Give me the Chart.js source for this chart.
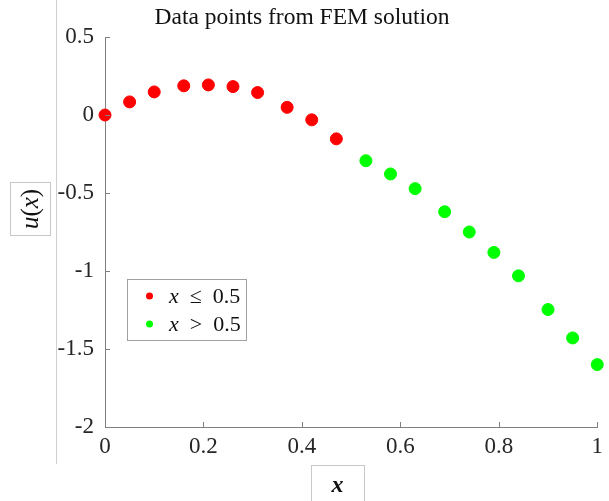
<!DOCTYPE html>
<html>
<head>
<meta charset="utf-8">
<script src="https://cdn.jsdelivr.net/npm/chart.js@4"></script>
<style>
  html,body{margin:0;padding:0;background:#fff;}
  #wrap{width:609px;height:501px;}
</style>
</head>
<body>
<div id="wrap"><canvas id="c" width="609" height="501"></canvas></div>
<script>
// FEM solution points, split at x = 0.5
const xRed = [0, 0.05, 0.1, 0.16, 0.21, 0.26, 0.31, 0.37, 0.42, 0.47];
const yRed = [0, 0.084, 0.148, 0.187, 0.193, 0.182, 0.144, 0.049, -0.031, -0.153];
const xGreen = [0.53, 0.58, 0.63, 0.69, 0.74, 0.79, 0.84, 0.9, 0.95, 1];
const yGreen = [-0.293, -0.378, -0.472, -0.620, -0.750, -0.881, -1.031, -1.247, -1.429, -1.600];
const xTicks = [0, 0.2, 0.4, 0.6, 0.8, 1];
const yTicks = [0.5, 0, -0.5, -1, -1.5, -2];
const titleText = 'Data points from FEM solution';

const SERIF = '"Liberation Serif", "DejaVu Serif", serif';
const toPts = (xs, ys) => xs.map((x, i) => ({x: x, y: ys[i]}));

// draw a run of [text, italic] pieces starting at x
function drawRuns(ctx, runs, x, y, size){
  runs.forEach(r => {
    ctx.font = (r[1] ? 'italic ' : '') + size + 'px ' + SERIF;
    ctx.fillText(r[0], x, y);
    x += ctx.measureText(r[0]).width;
  });
}
function runsWidth(ctx, runs, size){
  let w = 0;
  runs.forEach(r => { ctx.font = (r[1] ? 'italic ' : '') + size + 'px ' + SERIF; w += ctx.measureText(r[0]).width; });
  return w;
}

const decor = {
  id: 'decor',
  afterDraw(chart){
    const ctx = chart.ctx, a = chart.chartArea;
    const xs = chart.scales.x, ys = chart.scales.y;
    ctx.save();
    // inward tick marks
    ctx.strokeStyle = '#808080'; ctx.lineWidth = 1;
    ctx.beginPath();
    xTicks.forEach(v => { const p = Math.round(xs.getPixelForValue(v)) + 0.5; ctx.moveTo(p, a.bottom); ctx.lineTo(p, a.bottom - 5); });
    yTicks.forEach(v => { const p = Math.round(ys.getPixelForValue(v)) + 0.5; ctx.moveTo(a.left, p); ctx.lineTo(a.left + 5, p); });
    ctx.stroke();

    // thin figure edge line
    ctx.strokeStyle = '#cfcfcf';
    ctx.beginPath(); ctx.moveTo(56.5, 0); ctx.lineTo(56.5, 464); ctx.stroke();

    // title
    ctx.fillStyle = '#111';
    ctx.textAlign = 'center'; ctx.textBaseline = 'middle';
    ctx.font = '23.5px ' + SERIF;
    ctx.fillText(titleText, 302, 18);

    // y label u(x), boxed, rotated
    ctx.strokeStyle = '#c8c8c8';
    ctx.strokeRect(10.5, 182.5, 40, 53);
    ctx.save();
    ctx.translate(31, 209); ctx.rotate(-Math.PI / 2);
    ctx.textAlign = 'left';
    const yl = [['u', true], ['(', false], ['x', true], [')', false]];
    const w1 = runsWidth(ctx, yl, 25);
    drawRuns(ctx, yl, -w1 / 2, 0, 25);
    ctx.restore();

    // x label, boxed
    ctx.strokeRect(311.5, 465.5, 53, 40);
    ctx.font = 'italic bold 24px ' + SERIF;
    ctx.textAlign = 'center';
    ctx.fillText('x', 337.5, 486);

    // legend
    ctx.fillStyle = '#fff';
    ctx.fillRect(127.5, 279.5, 119, 61);
    ctx.strokeStyle = '#a0a0a0';
    ctx.strokeRect(127.5, 279.5, 119, 61);
    const items = [
      {c: '#ff0000', runs: [['x', true], ['  \u2264  0.5', false]], y: 296},
      {c: '#00ff00', runs: [['x', true], ['  >  0.5', false]], y: 324}
    ];
    ctx.textAlign = 'left';
    items.forEach(it => {
      ctx.fillStyle = it.c;
      ctx.beginPath(); ctx.arc(149.5, it.y, 3.5, 0, Math.PI * 2); ctx.fill();
      ctx.fillStyle = '#111';
      drawRuns(ctx, it.runs, 169, it.y + 1, 22);
    });
    ctx.restore();
  }
};

new Chart(document.getElementById('c'), {
  type: 'scatter',
  data: {
    datasets: [
      {label: 'x <= 0.5', data: toPts(xRed, yRed), backgroundColor: '#ff0000', borderColor: '#ff0000', pointRadius: 6, pointHoverRadius: 6, clip: false},
      {label: 'x > 0.5', data: toPts(xGreen, yGreen), backgroundColor: '#00ff00', borderColor: '#00ff00', pointRadius: 6, pointHoverRadius: 6, clip: false}
    ]
  },
  options: {
    responsive: false,
    animation: false,
    events: [],
    layout: {padding: {left: 0, top: 37, right: 11, bottom: 0}},
    plugins: {legend: {display: false}, title: {display: false}, tooltip: {enabled: false}},
    scales: {
      x: {
        type: 'linear', min: 0, max: 1,
        afterBuildTicks: s => { s.ticks = xTicks.map(v => ({value: v})); },
        afterFit: s => { s.height = 74; },
        grid: {display: false, drawTicks: false},
        border: {display: true, color: '#808080', width: 1},
        ticks: {padding: 6, color: '#262626', font: {family: SERIF, size: 23}, maxRotation: 0, callback: v => String(v)}
      },
      y: {
        type: 'linear', min: -2, max: 0.5,
        afterBuildTicks: s => { s.ticks = yTicks.map(v => ({value: v})); },
        afterFit: s => { s.width = 105; },
        grid: {display: false, drawTicks: false},
        border: {display: true, color: '#808080', width: 1},
        ticks: {padding: 11, color: '#262626', font: {family: SERIF, size: 23}, callback: v => String(v)}
      }
    }
  },
  plugins: [decor]
});
</script>
</body>
</html>
